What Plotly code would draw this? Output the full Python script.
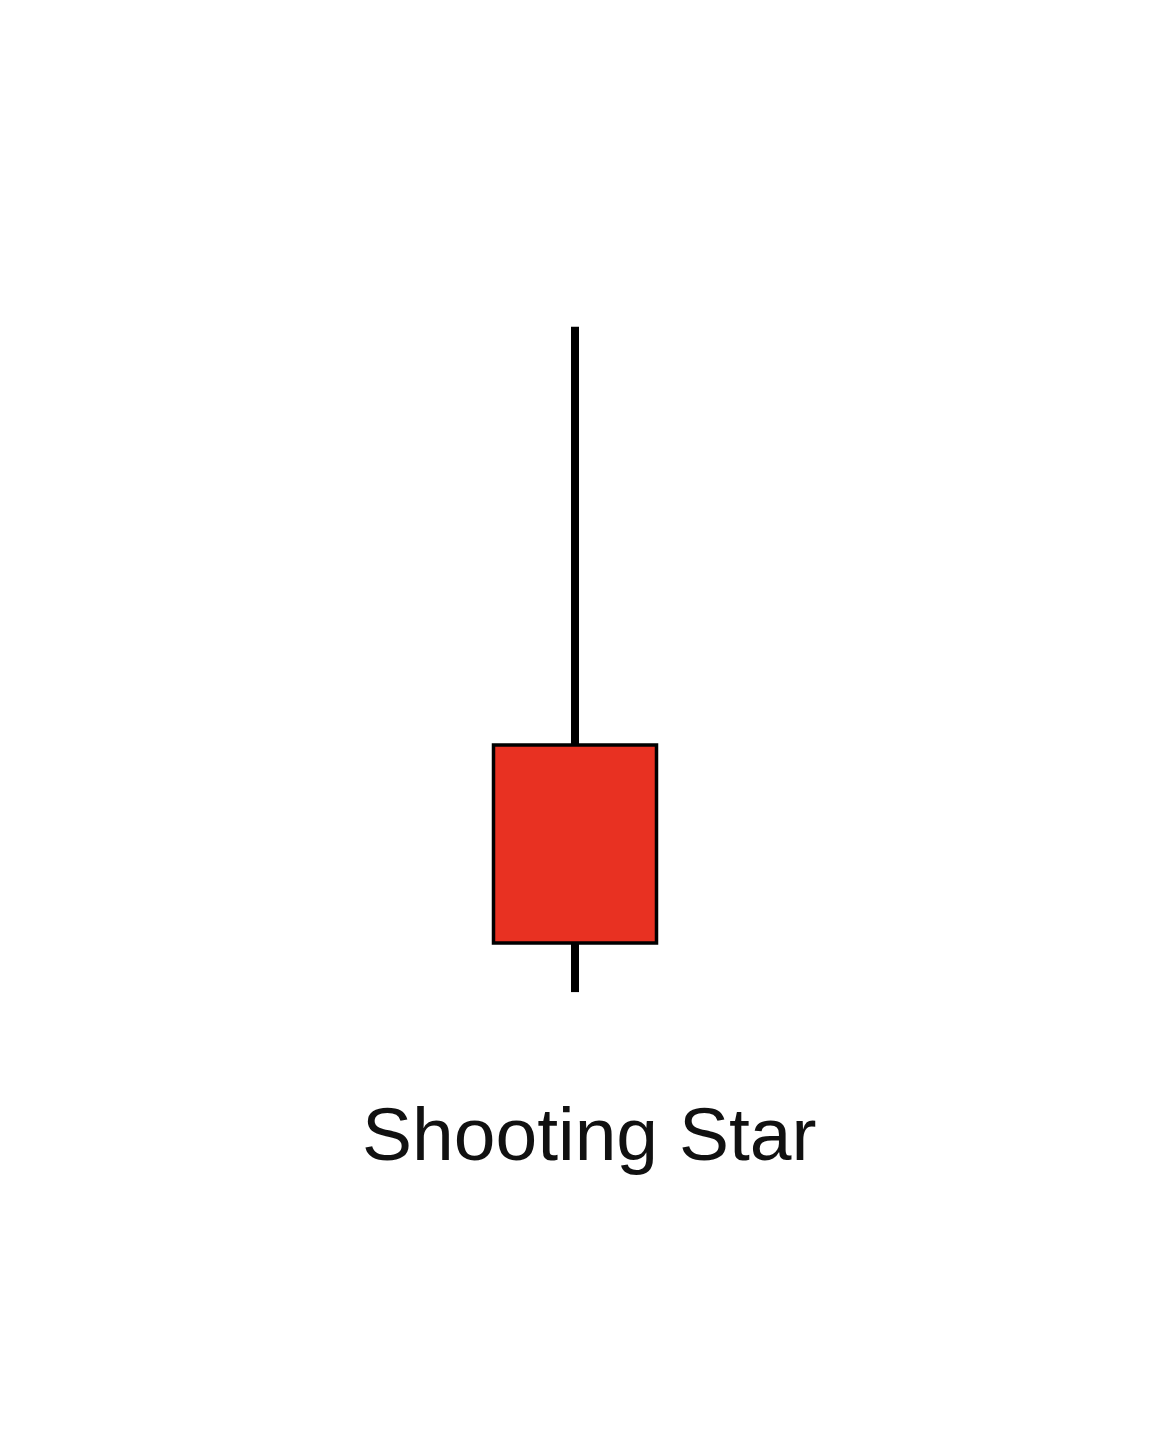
import plotly.graph_objects as go

# Candle data (bearish shooting star)
labels = ["Shooting Star"]
open_ = [50.0]
close = [45.0]
high = [60.56]
low = [43.76]
xpos = [0]

BODY_RED = "#E83122"

fig = go.Figure()

# upper wick: from body top (open) to high
fig.add_trace(go.Scatter(
    x=[xpos[0], xpos[0]], y=[max(open_[0], close[0]), high[0]],
    mode="lines", line=dict(color="black", width=8),
    hoverinfo="skip", showlegend=False))
# lower wick: from body bottom (close) to low
fig.add_trace(go.Scatter(
    x=[xpos[0], xpos[0]], y=[min(open_[0], close[0]), low[0]],
    mode="lines", line=dict(color="black", width=8),
    hoverinfo="skip", showlegend=False))
# body
fig.add_trace(go.Bar(
    x=xpos, y=[abs(open_[0] - close[0])], base=[min(open_[0], close[0])],
    width=1.0,
    marker=dict(color=BODY_RED, line=dict(color="black", width=3.5)),
    hoverinfo="skip", showlegend=False))

fig.add_annotation(
    text=labels[0], xref="paper", yref="paper",
    x=589 / 1154, y=1 - 1134 / 1450, xanchor="center", yanchor="middle",
    showarrow=False,
    font=dict(family="Liberation Sans, Arial, sans-serif", size=75, color="#111111"))

fig.update_layout(
    width=1154, height=1450,
    margin=dict(l=0, r=0, t=0, b=0),
    paper_bgcolor="white", plot_bgcolor="white",
    xaxis=dict(range=[-575 / 163, 579 / 163], visible=False, fixedrange=True),
    yaxis=dict(range=[32.197, 68.813], visible=False, fixedrange=True),
    showlegend=False,
)

fig.write_html("out.html")
